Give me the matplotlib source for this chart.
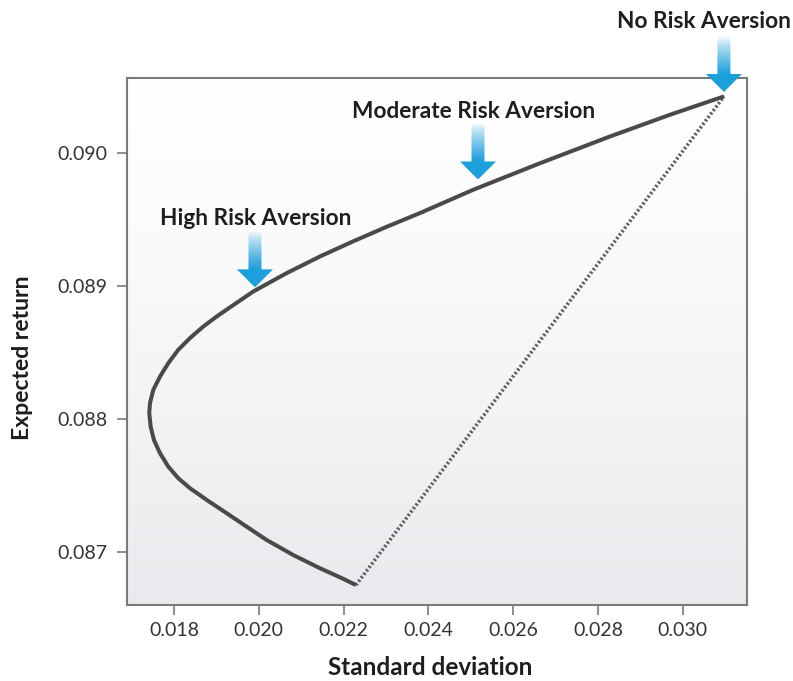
import numpy as np
import matplotlib
matplotlib.use('Agg')
import matplotlib.pyplot as plt
from matplotlib.patches import Polygon

plt.rcParams['font.family'] = ['Lato', 'DejaVu Sans']

#############################################################
''' Data read off the chart '''

# efficient frontier, from the low end round the nose up to the top right
std_dev = [0.022292, 0.021915, 0.021443, 0.020814, 0.020186, 0.019715,
           0.019243, 0.018771, 0.018377, 0.018101, 0.017866, 0.017670,
           0.017528, 0.017450, 0.017417, 0.017434, 0.017512, 0.017670,
           0.017866, 0.018101, 0.018377, 0.018691, 0.019007, 0.019321,
           0.019870, 0.020658, 0.021443, 0.022229, 0.023017, 0.023802,
           0.025059, 0.026632, 0.028283, 0.029698, 0.030972]
exp_return = [0.086755, 0.086813, 0.086881, 0.086980, 0.087093, 0.087193,
              0.087294, 0.087394, 0.087482, 0.087557, 0.087644, 0.087745,
              0.087844, 0.087944, 0.088045, 0.088120, 0.088220, 0.088320,
              0.088421, 0.088521, 0.088609, 0.088696, 0.088771, 0.088840,
              0.088959, 0.089097, 0.089222, 0.089336, 0.089445, 0.089548,
              0.089723, 0.089922, 0.090123, 0.090286, 0.090424]

# arrows: label, tip (sd, return), label baseline (sd, return)
labels = ['High Risk Aversion', 'Moderate Risk Aversion', 'No Risk Aversion']
tip_sd = [0.01991, 0.02517, 0.03097]
tip_ret = [0.08899, 0.08980, 0.090457]
label_sd = [0.01993, 0.02506, 0.03049]
label_ret = [0.089460, 0.090261, 0.090938]

x_ticks = [0.018, 0.020, 0.022, 0.024, 0.026, 0.028, 0.030]
y_ticks = [0.087, 0.088, 0.089, 0.090]

#############################################################
''' Plot '''

W, H = 793, 681
fig = plt.figure(figsize=(W / 100, H / 100), dpi=100)
ax = fig.add_axes([127 / W, 1 - 605 / H, 620 / W, 527 / H])

# background gradient, white at top to light grey at bottom
grad = np.linspace(0, 1, 256)[:, None] ** 1.3
top = np.array([1.0, 1.0, 1.0])
bot = np.array([233, 234, 237]) / 255
bg = top[None, None, :] * (1 - grad[..., None]) + bot[None, None, :] * grad[..., None]
ax.imshow(bg, extent=[0, 1, 0, 1], transform=ax.transAxes, aspect='auto', zorder=0)

ax.plot(std_dev, exp_return, color='#4a4a4a', lw=2.9, solid_capstyle='butt',
        solid_joinstyle='round', zorder=3)
ax.plot([std_dev[0], std_dev[-1]], [exp_return[0], exp_return[-1]],
        color='#606060', lw=2.6, linestyle=(0, (0.6, 0.6)), zorder=2)

ax.set_xlim(0.016892, 0.031514)
ax.set_ylim(0.086605, 0.090562)
ax.set_xticks(x_ticks)
ax.set_yticks(y_ticks)
ax.set_xticklabels(['%.3f' % v for v in x_ticks])
ax.set_yticklabels(['%.3f' % v for v in y_ticks])

for s in ax.spines.values():
    s.set_color('#7a7a7a')
    s.set_linewidth(1.5)
ax.tick_params(axis='both', direction='out', length=7, width=1.2, color='#7a7a7a',
               labelsize=14, labelcolor='#333333')
ax.tick_params(axis='x', pad=5)
ax.tick_params(axis='y', pad=7)

ax.set_xlabel('Standard deviation', fontsize=17.5, fontweight='bold', color='#1e1e1e')
ax.set_ylabel('Expected return', fontsize=16.5, fontweight='bold', color='#1e1e1e')
ax.xaxis.set_label_coords(0.489, -0.119)
ax.xaxis.label.set_va('center')
ax.yaxis.set_label_coords(-0.169, 0.470)
ax.yaxis.label.set_va('center')

for lab, x, y in zip(labels, label_sd, label_ret):
    ax.text(x, y, lab, ha='center', va='baseline', fontsize=16.3, fontweight='bold',
            color='#1e1e1e', clip_on=False, zorder=6)

# overlay in pixel units for the gradient arrows
ov = fig.add_axes([0, 0, 1, 1], zorder=5)
ov.patch.set_alpha(0)
ov.axis('off')

blue = np.array([28, 160, 220]) / 255
head_h, head_w, shaft_w, length = 18, 18, 6.5, 56
for x, y in zip(tip_sd, tip_ret):
    tx, ty = ax.transData.transform((x, y))
    pts = [(tx, ty), (tx - head_w, ty + head_h), (tx - shaft_w, ty + head_h),
           (tx - shaft_w, ty + length), (tx + shaft_w, ty + length),
           (tx + shaft_w, ty + head_h), (tx + head_w, ty + head_h)]
    poly = Polygon(pts, closed=True, facecolor='none', edgecolor='none')
    ov.add_patch(poly)
    h = np.linspace(0, length, 200)
    alpha = np.clip(1 - (h - head_h) / (length - head_h), 0, 1) ** 0.8
    img = np.zeros((200, 1, 4))
    img[:, 0, :3] = blue
    img[:, 0, 3] = alpha
    im = ov.imshow(img, extent=[tx - head_w, tx + head_w, ty, ty + length],
                   origin='lower', aspect='auto', interpolation='bilinear')
    im.set_clip_path(poly)

ov.set_xlim(0, W)
ov.set_ylim(0, H)

fig.savefig('out.png', dpi=100)
